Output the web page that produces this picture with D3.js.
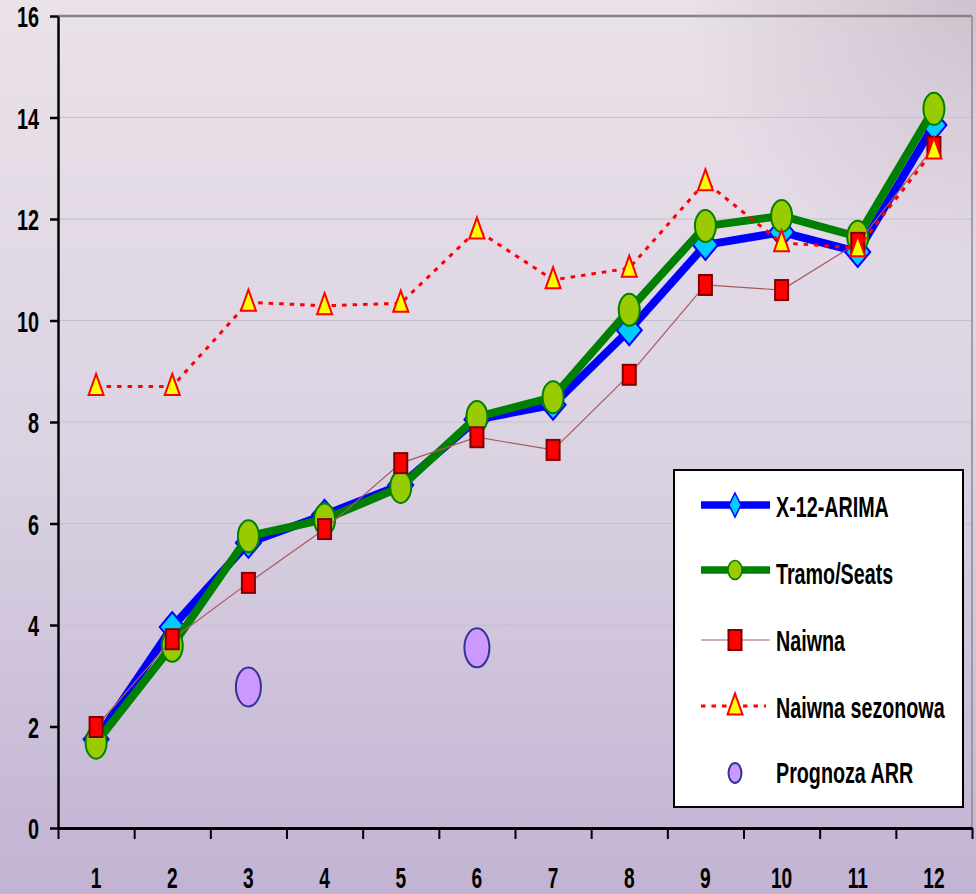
<!DOCTYPE html>
<html>
<head>
<meta charset="utf-8">
<script src="https://cdn.jsdelivr.net/npm/d3@7"></script>
<style>
html,body{margin:0;padding:0;background:#ddd4e2;}
svg{display:block;}
text{font-family:"Liberation Sans",Arial,sans-serif;font-weight:bold;fill:#000;}
</style>
</head>
<body>
<svg id="chart" width="976" height="894"></svg>
<script>
// ---- data ----
const categories = ["1","2","3","4","5","6","7","8","9","10","11","12"];
const x12arima   = [1.75, 3.96, 5.62, 6.17, 6.76, 8.05, 8.34, 9.81, 11.49, 11.74, 11.35, 13.85];
const tramoSeats = [1.68, 3.59, 5.75, 6.08, 6.72, 8.10, 8.49, 10.21, 11.86, 12.06, 11.65, 14.17];
const naiwna     = [1.99, 3.72, 4.83, 5.89, 7.19, 7.70, 7.45, 8.93, 10.70, 10.60, 11.53, 13.42];
const naiwnaSez  = [8.70, 8.70, 10.36, 10.29, 10.34, 11.78, 10.80, 11.03, 12.73, 11.53, 11.43, 13.36];
const arrCats    = ["3","6"];
const arrValues  = [2.78, 3.55];
const yTicks     = [0,2,4,6,8,10,12,14,16];
const legendLabels = ["X-12-ARIMA","Tramo/Seats","Naiwna","Naiwna sezonowa","Prognoza ARR"];

(function(){
// ---- setup ----
const W = 976, H = 894;
const pLeft = 58, pRight = 972, pTop = 16, pBottom = 828;
const svg = d3.select("#chart");
const defs = svg.append("defs");

const bg = defs.append("linearGradient").attr("id","bg").attr("x1",0).attr("y1",0).attr("x2",0).attr("y2",1);
bg.append("stop").attr("offset","0%").attr("stop-color","#eae1e9");
bg.append("stop").attr("offset","50%").attr("stop-color","#dbd3e2");
bg.append("stop").attr("offset","100%").attr("stop-color","#c2b3d3");
const sh = defs.append("radialGradient").attr("id","shade").attr("cx",1).attr("cy",0).attr("r",0.3);
sh.append("stop").attr("offset","0%").attr("stop-color","#b8a8b8").attr("stop-opacity",0.55);
sh.append("stop").attr("offset","100%").attr("stop-color","#b8a8b8").attr("stop-opacity",0);

svg.append("rect").attr("width",W).attr("height",H).attr("fill","url(#bg)");
svg.append("rect").attr("width",W).attr("height",H).attr("fill","url(#shade)");

const x = d3.scaleBand().domain(categories).range([pLeft, pRight]).padding(0);
const xEdge = d3.scaleLinear().domain([0, categories.length]).range([pLeft, pRight]);
const y = d3.scaleLinear().domain([0,16]).range([pBottom, pTop]);
const cx = c => x(c) + x.bandwidth()/2;

// gridlines
svg.append("g").selectAll("line").data(yTicks.filter(v => v>0 && v<16)).join("line")
  .attr("x1",pLeft).attr("x2",pRight).attr("y1",d=>y(d)).attr("y2",d=>y(d))
  .attr("stroke","#c6c0cc").attr("stroke-width",1);
// top & right border
svg.append("line").attr("x1",pLeft).attr("x2",pRight).attr("y1",y(16)).attr("y2",y(16))
  .attr("stroke","#858585").attr("stroke-width",2.5);
svg.append("line").attr("x1",pRight).attr("x2",pRight).attr("y1",y(16)).attr("y2",pBottom)
  .attr("stroke","#8a8a8a").attr("stroke-width",1.5);

const SX = 0.66;
// y axis
const yAx = svg.append("g").attr("transform",`translate(${pLeft},0)`)
  .call(d3.axisLeft(y).tickValues(yTicks).tickSize(8).tickSizeOuter(0).tickFormat(d3.format("d")));
yAx.select(".domain").attr("stroke","#000").attr("stroke-width",2.5);
yAx.selectAll(".tick line").attr("stroke","#000").attr("stroke-width",2.5);
yAx.selectAll(".tick text").attr("x",-19/SX).attr("dy","0.36em")
  .attr("transform",`scale(${SX},1)`).style("font-size","30px").attr("text-anchor","end");

// x axis: boundary ticks
const xTickAx = svg.append("g").attr("transform",`translate(0,${pBottom})`)
  .call(d3.axisBottom(xEdge).tickValues(d3.range(0, categories.length+1)).tickSize(11).tickSizeOuter(0).tickFormat(""));
xTickAx.select(".domain").attr("stroke","#000").attr("stroke-width",3);
xTickAx.selectAll(".tick line").attr("stroke","#000").attr("stroke-width",2);
// x axis labels
const xAx = svg.append("g").attr("transform",`translate(0,${pBottom})`)
  .call(d3.axisBottom(x).tickSize(0));
xAx.select(".domain").remove();
xAx.selectAll(".tick text").attr("y",60).attr("dy",0)
  .attr("transform",`scale(${SX},1)`).style("font-size","29px");

// ---- series ----
const line = d3.line().x((d,i)=>cx(categories[i])).y(d=>y(d));

function diamondPath(w,h){return `M0,${-h/2}L${w/2},0L0,${h/2}L${-w/2},0Z`;}
function trianglePath(w,h){return `M0,${-h*0.6}L${w/2},${h*0.4}L${-w/2},${h*0.4}Z`;}

// X-12-ARIMA
svg.append("path").attr("d",line(x12arima)).attr("fill","none").attr("stroke","#0000ff")
  .attr("stroke-width",8).attr("stroke-linejoin","round");
svg.append("g").selectAll("path").data(x12arima).join("path")
  .attr("transform",(d,i)=>`translate(${cx(categories[i])},${y(d)})`)
  .attr("d",diamondPath(25,30)).attr("fill","#00ccff").attr("stroke","#0000ff").attr("stroke-width",2);

// Tramo/Seats
svg.append("path").attr("d",line(tramoSeats)).attr("fill","none").attr("stroke","#008000")
  .attr("stroke-width",8).attr("stroke-linejoin","round");
svg.append("g").selectAll("ellipse").data(tramoSeats).join("ellipse")
  .attr("cx",(d,i)=>cx(categories[i])).attr("cy",d=>y(d)).attr("rx",10.5).attr("ry",16)
  .attr("fill","#99cc00").attr("stroke","#008000").attr("stroke-width",2);

// Naiwna
svg.append("path").attr("d",line(naiwna)).attr("fill","none").attr("stroke","#a85a5a")
  .attr("stroke-width",1.2);
svg.append("g").selectAll("rect").data(naiwna).join("rect")
  .attr("x",(d,i)=>cx(categories[i])-6.5).attr("y",d=>y(d)-10).attr("width",13).attr("height",20)
  .attr("fill","#ff0000").attr("stroke","#800000").attr("stroke-width",2);

// Naiwna sezonowa
svg.append("path").attr("d",line(naiwnaSez)).attr("fill","none").attr("stroke","#ff0000")
  .attr("stroke-width",3).attr("stroke-dasharray","4.5,6");
svg.append("g").selectAll("path").data(naiwnaSez).join("path")
  .attr("transform",(d,i)=>`translate(${cx(categories[i])},${y(d)})`)
  .attr("d",trianglePath(15,21)).attr("fill","#ffff00").attr("stroke","#ff0000").attr("stroke-width",2);

// Prognoza ARR
svg.append("g").selectAll("ellipse").data(arrValues).join("ellipse")
  .attr("cx",(d,i)=>cx(arrCats[i])).attr("cy",d=>y(d)).attr("rx",12.5).attr("ry",19.5)
  .attr("fill","#cc99ff").attr("stroke","#333399").attr("stroke-width",2);

// ---- legend ----
const lg = svg.append("g");
lg.append("rect").attr("x",674).attr("y",470).attr("width",289).attr("height",337)
  .attr("fill","#ffffff").attr("stroke","#000").attr("stroke-width",2);
const rowsY = [505, 570, 640, 706, 773];
const baseY = [517, 584, 651, 718, 783];
const lx1 = 701, lx2 = 770, mx = 735;
lg.append("line").attr("x1",lx1).attr("x2",lx2).attr("y1",rowsY[0]).attr("y2",rowsY[0]).attr("stroke","#0000ff").attr("stroke-width",7.5);
lg.append("path").attr("transform",`translate(${mx},${rowsY[0]})`).attr("d",diamondPath(12,24)).attr("fill","#00ccff").attr("stroke","#0000ff").attr("stroke-width",1.5);
lg.append("line").attr("x1",lx1).attr("x2",lx2).attr("y1",rowsY[1]).attr("y2",rowsY[1]).attr("stroke","#008000").attr("stroke-width",7.5);
lg.append("ellipse").attr("cx",mx).attr("cy",rowsY[1]).attr("rx",7).attr("ry",9.5).attr("fill","#99cc00").attr("stroke","#008000").attr("stroke-width",1.5);
lg.append("line").attr("x1",lx1).attr("x2",lx2).attr("y1",rowsY[2]).attr("y2",rowsY[2]).attr("stroke","#a85a5a").attr("stroke-width",1.2);
lg.append("rect").attr("x",mx-6.5).attr("y",rowsY[2]-10).attr("width",13).attr("height",20).attr("fill","#ff0000").attr("stroke","#800000").attr("stroke-width",2);
lg.append("line").attr("x1",lx1).attr("x2",lx2-4).attr("y1",rowsY[3]).attr("y2",rowsY[3]).attr("stroke","#ff0000").attr("stroke-width",3).attr("stroke-dasharray","4.5,6");
lg.append("path").attr("transform",`translate(${mx},${rowsY[3]})`).attr("d",trianglePath(15,21)).attr("fill","#ffff00").attr("stroke","#ff0000").attr("stroke-width",2);
lg.append("ellipse").attr("cx",mx).attr("cy",rowsY[4]).attr("rx",6.5).attr("ry",10).attr("fill","#cc99ff").attr("stroke","#333399").attr("stroke-width",2);

lg.selectAll("text.lbl").data(legendLabels).join("text").attr("class","lbl")
  .attr("transform",(d,i)=>`translate(776,${baseY[i]}) scale(0.68,1)`)
  .style("font-size","29px").text(d=>d);
})();
</script>
</body>
</html>
